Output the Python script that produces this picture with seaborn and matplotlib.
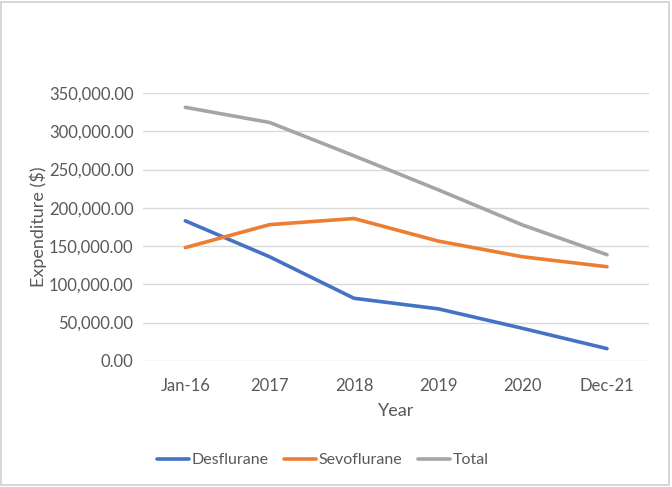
import matplotlib
matplotlib.use('Agg')
import matplotlib.pyplot as plt
import matplotlib.ticker as mticker
from matplotlib.patches import Rectangle
import seaborn as sns
import pandas as pd

periods = ['Jan-16', '2017', '2018', '2019', '2020', 'Dec-21']
desflurane = [183000, 136000, 81800, 68000, 42500, 16000]
sevoflurane = [148000, 178000, 186000, 156500, 136000, 123000]
total = [331300, 311500, 268000, 223500, 177500, 138700]

df = pd.DataFrame({'period': periods, 'Desflurane': desflurane,
                   'Sevoflurane': sevoflurane, 'Total': total})
long = df.melt(id_vars='period', var_name='series', value_name='value')
long['x'] = long['period'].map({p: i for i, p in enumerate(periods)})

sns.set_style('white')
plt.rcParams['font.family'] = ['Lato', 'DejaVu Sans']
text_color = '#595959'

fig = plt.figure(figsize=(6.72, 4.87), dpi=100)
ax = fig.add_axes([0.213, 0.259, 0.753, 0.55])

palette = {'Desflurane': '#4472C4', 'Sevoflurane': '#ED7D31', 'Total': '#A5A5A5'}
sns.lineplot(data=long, x='x', y='value', hue='series', palette=palette,
             linewidth=2.6, ax=ax, legend=False)

ax.set_xlim(-0.5, 5.5)
ax.set_ylim(0, 350000)
ax.set_xticks(range(len(periods)))
ax.set_xticklabels(periods)
ax.yaxis.set_major_locator(mticker.MultipleLocator(50000))
ax.yaxis.set_major_formatter(mticker.FuncFormatter(lambda v, p: f'{v:,.2f}'))
ax.grid(True, axis='y', color='#d9d9d9', linewidth=1)
for s in ax.spines.values():
    s.set_visible(False)
ax.tick_params(axis='y', length=0, labelsize=12, colors=text_color, pad=7)
ax.tick_params(axis='x', length=0, labelsize=12, colors=text_color, pad=12)
ax.set_xlabel('Year', fontsize=13, color=text_color, labelpad=7)
ax.set_ylabel('Expenditure ($)', fontsize=13, color=text_color, labelpad=1)

handles = [plt.Line2D([], [], color=palette[k], linewidth=2.6) for k in palette]
fig.legend(handles, list(palette), loc='center', bbox_to_anchor=(0.48, 0.055), ncol=3,
           frameon=False, fontsize=11.5, labelcolor=text_color, handlelength=2.0,
           handletextpad=0.15, columnspacing=1.0)

fig.patches.append(Rectangle((0.002, 0.004), 0.994, 0.992, transform=fig.transFigure,
                             fill=False, edgecolor='#d0d0d0', linewidth=1.2))

fig.savefig('out.png', dpi=100, facecolor='white')
